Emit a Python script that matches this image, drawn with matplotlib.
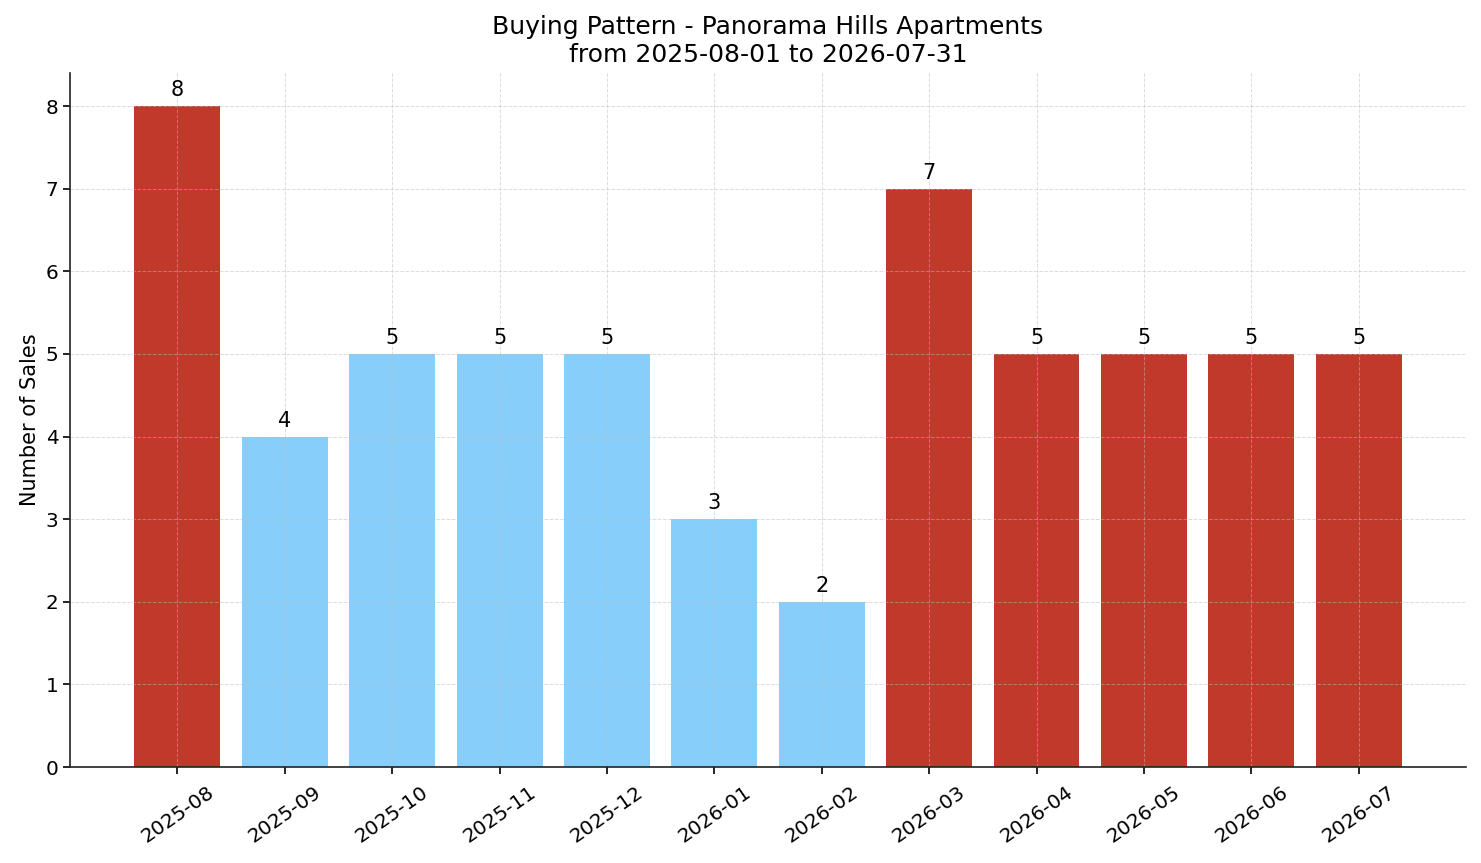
import matplotlib
matplotlib.use('Agg')
import matplotlib.pyplot as plt
import numpy as np

months = ['2025-08', '2025-09', '2025-10', '2025-11', '2025-12', '2026-01',
          '2026-02', '2026-03', '2026-04', '2026-05', '2026-06', '2026-07']
sales = [8, 4, 5, 5, 5, 3, 2, 7, 5, 5, 5, 5]
highlight = [True, False, False, False, False, False, False, True, True, True, True, True]

RED = '#C0392B'
BLUE = '#87CEFA'

fig = plt.figure(figsize=(14.81, 8.63), dpi=100)
ax = fig.add_axes([0.0473, 0.1112, 0.9426, 0.8042])

x = np.arange(len(months))
colors = [RED if h else BLUE for h in highlight]
ax.bar(x, sales, width=0.8, color=colors)

for xi, v in zip(x, sales):
    ax.text(xi, v + 0.07, str(v), ha='center', va='bottom', fontsize=15)

ax.set_xticks(x)
ax.set_xticklabels(months, rotation=35, fontsize=14.4)
ax.tick_params(axis='y', labelsize=14.4)
ax.tick_params(length=5, width=1.2)
ax.tick_params(axis='x', pad=6)
ax.set_xlim(-1, 12)
ax.set_ylim(0, 8.4)
ax.set_ylabel('Number of Sales', fontsize=15)
ax.set_title('Buying Pattern - Panorama Hills Apartments\nfrom 2025-08-01 to 2026-07-31',
             fontsize=18, pad=8)
ax.grid(True, linestyle='--', alpha=0.5, linewidth=0.7, color='#bbbbbb')
ax.spines['top'].set_visible(False)
ax.spines['right'].set_visible(False)
for s in ['left', 'bottom']:
    ax.spines[s].set_linewidth(1.2)
    ax.spines[s].set_color('#222222')

plt.savefig('out.png', dpi=100)
plt.close()
